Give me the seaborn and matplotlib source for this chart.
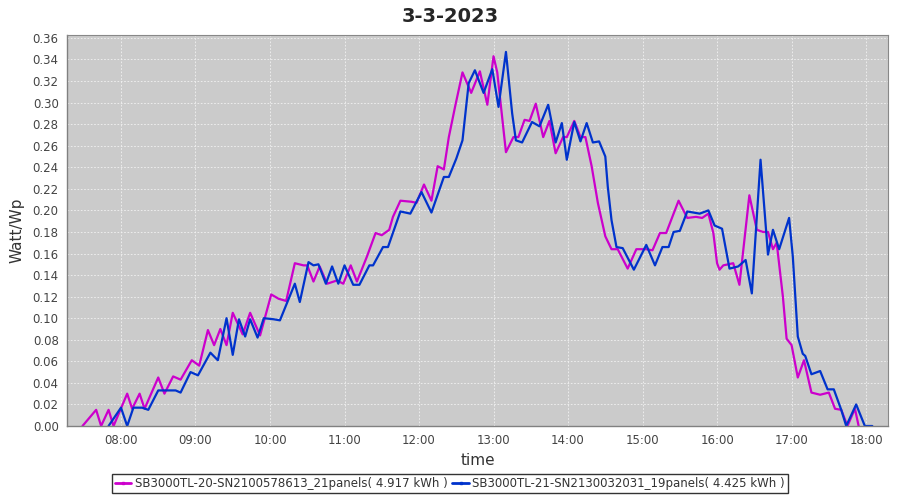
import numpy as np
import pandas as pd
import matplotlib
matplotlib.use("Agg")
import matplotlib.pyplot as plt
import matplotlib.dates as mdates
from matplotlib.ticker import FormatStrFormatter
from matplotlib.lines import Line2D
import seaborn as sns

# --- data (time of day, Watt/Wp) ---
day = "2023-03-03"
title = "3-3-2023"

sb20_label = "SB3000TL-20-SN2100578613_21panels( 4.917 kWh )"
sb20_times = ["07:29", "07:40", "07:44", "07:50", "07:54", "08:05", "08:09", "08:15", "08:19",
              "08:30", "08:35", "08:42", "08:48", "08:57", "09:03", "09:10", "09:15", "09:20",
              "09:25", "09:30", "09:38", "09:44", "09:52", "10:01", "10:07", "10:13", "10:20",
              "10:27", "10:30", "10:35", "10:40", "10:46", "10:54", "10:59", "11:05", "11:10",
              "11:18", "11:25", "11:30", "11:36", "11:39", "11:45", "11:54", "11:58", "12:04",
              "12:10", "12:15", "12:20", "12:24", "12:29", "12:35", "12:42", "12:49", "12:55",
              "13:00", "13:03", "13:10", "13:16", "13:20", "13:25", "13:29", "13:34", "13:40",
              "13:45", "13:50", "13:56", "13:59", "14:05", "14:10", "14:14", "14:19", "14:24",
              "14:30", "14:35", "14:40", "14:48", "14:55", "15:03", "15:08", "15:14", "15:19",
              "15:29", "15:36", "15:43", "15:48", "15:53", "15:57", "16:00", "16:02", "16:05",
              "16:13", "16:18", "16:26", "16:32", "16:37", "16:41", "16:45", "16:48", "16:53",
              "16:56", "17:00", "17:05", "17:10", "17:16", "17:23", "17:30", "17:35", "17:40",
              "17:45", "17:51", "17:54"]
sb20_values = [0.000, 0.015, 0.000, 0.015, 0.000, 0.030, 0.016, 0.030, 0.016,
               0.045, 0.030, 0.046, 0.043, 0.061, 0.056, 0.089, 0.075, 0.090,
               0.075, 0.105, 0.085, 0.105, 0.084, 0.122, 0.118, 0.116, 0.151,
               0.149, 0.149, 0.134, 0.148, 0.132, 0.135, 0.132, 0.149, 0.134,
               0.157, 0.179, 0.177, 0.182, 0.194, 0.209, 0.208, 0.207, 0.224,
               0.209, 0.241, 0.238, 0.268, 0.296, 0.328, 0.309, 0.329, 0.298,
               0.343, 0.328, 0.254, 0.268, 0.268, 0.284, 0.283, 0.299, 0.268,
               0.283, 0.253, 0.268, 0.268, 0.283, 0.268, 0.268, 0.241, 0.207,
               0.176, 0.164, 0.164, 0.146, 0.164, 0.164, 0.163, 0.179, 0.179,
               0.209, 0.193, 0.194, 0.193, 0.197, 0.179, 0.151, 0.145, 0.149,
               0.151, 0.131, 0.214, 0.182, 0.180, 0.180, 0.164, 0.170, 0.120,
               0.081, 0.075, 0.045, 0.061, 0.031, 0.029, 0.031, 0.016, 0.015,
               0.000, 0.016, 0.000]

sb21_label = "SB3000TL-21-SN2130032031_19panels( 4.425 kWh )"
sb21_times = ["07:50", "08:00", "08:05", "08:10", "08:17", "08:22", "08:30", "08:44", "08:48",
              "08:56", "09:02", "09:12", "09:18", "09:25", "09:30", "09:35", "09:40", "09:44",
              "09:50", "09:55", "10:03", "10:08", "10:20", "10:24", "10:31", "10:35", "10:39",
              "10:45", "10:50", "10:55", "11:00", "11:07", "11:12", "11:20", "11:23", "11:31",
              "11:35", "11:45", "11:53", "12:02", "12:10", "12:20", "12:24", "12:30", "12:35",
              "12:40", "12:45", "12:52", "12:59", "13:04", "13:10", "13:15", "13:18", "13:23",
              "13:31", "13:37", "13:44", "13:50", "13:55", "13:59", "14:05", "14:10", "14:15",
              "14:20", "14:25", "14:30", "14:32", "14:35", "14:39", "14:44", "14:53", "15:03",
              "15:10", "15:16", "15:21", "15:25", "15:30", "15:36", "15:46", "15:53", "15:58",
              "16:04", "16:10", "16:17", "16:23", "16:28", "16:35", "16:41", "16:45", "16:50",
              "16:58", "17:01", "17:05", "17:09", "17:11", "17:16", "17:23", "17:29", "17:34",
              "17:40", "17:44", "17:52", "17:59", "18:05"]
sb21_values = [0.000, 0.017, 0.000, 0.017, 0.017, 0.015, 0.033, 0.033, 0.031,
               0.050, 0.047, 0.068, 0.061, 0.100, 0.066, 0.099, 0.083, 0.099,
               0.082, 0.100, 0.099, 0.098, 0.132, 0.115, 0.152, 0.149, 0.150,
               0.132, 0.148, 0.132, 0.149, 0.131, 0.131, 0.149, 0.149, 0.166,
               0.166, 0.199, 0.197, 0.217, 0.198, 0.231, 0.231, 0.248, 0.265,
               0.318, 0.330, 0.309, 0.331, 0.296, 0.347, 0.290, 0.265, 0.263,
               0.282, 0.278, 0.298, 0.263, 0.281, 0.247, 0.282, 0.264, 0.281,
               0.263, 0.264, 0.250, 0.222, 0.191, 0.166, 0.165, 0.145, 0.168,
               0.149, 0.166, 0.166, 0.180, 0.181, 0.199, 0.197, 0.200, 0.186,
               0.183, 0.146, 0.148, 0.154, 0.123, 0.247, 0.159, 0.182, 0.164,
               0.193, 0.157, 0.083, 0.067, 0.065, 0.048, 0.051, 0.034, 0.034,
               0.015, 0.000, 0.020, 0.000, 0.000]

y_ticks = np.arange(0, 0.361, 0.02)


def to_frame(times, values, name):
    return pd.DataFrame({
        "time": pd.to_datetime([f"{day} {t}" for t in times]),
        "value": values,
        "series": name,
    })


df = pd.concat([to_frame(sb20_times, sb20_values, sb20_label),
                to_frame(sb21_times, sb21_values, sb21_label)], ignore_index=True)

colors = {sb20_label: "#cc00cc", sb21_label: "#0033cc"}

sns.set_style("white")
plt.rcParams["font.family"] = ["DejaVu Sans"]

fig = plt.figure(figsize=(9, 5), dpi=100)
ax = fig.add_axes([0.0744, 0.148, 0.9123, 0.782])
ax.set_facecolor("#cbcbcb")

sns.lineplot(data=df, x="time", y="value", hue="series", palette=colors,
             linewidth=1.6, ax=ax, legend=False, estimator=None, sort=True)

ax.set_xlim(pd.Timestamp(f"{day} 07:16:30"), pd.Timestamp(f"{day} 18:17:40"))
ax.set_ylim(0, 0.3627)
ax.set_yticks(y_ticks)
ax.yaxis.set_major_formatter(FormatStrFormatter("%.2f"))
ax.xaxis.set_major_locator(mdates.HourLocator())
ax.xaxis.set_major_formatter(mdates.DateFormatter("%H:%M"))

# light dashed grid like the original
ax.grid(True, color="#f2f2f2", linestyle=(0, (2, 2)), linewidth=0.6)
ax.set_axisbelow(True)
for side in ["top", "right"]:
    ax.spines[side].set_color("#888888")
    ax.spines[side].set_linewidth(0.8)
for side in ["left", "bottom"]:
    ax.spines[side].set_color("#808080")
    ax.spines[side].set_linewidth(1.0)
ax.tick_params(axis="both", direction="out", length=3, color="#808080",
               labelsize=8.5, labelcolor="#444444", pad=3)

ax.set_xlabel("time", fontsize=11, color="#333333", labelpad=4)
ax.set_ylabel("Watt/Wp", fontsize=11, color="#333333", labelpad=6)
fig.suptitle(title, x=0.5, y=0.985, fontsize=14, fontweight="bold")

handles = [Line2D([0], [0], color=colors[sb20_label], lw=2, marker="s", markersize=2),
           Line2D([0], [0], color=colors[sb21_label], lw=2, marker="s", markersize=2)]
leg = fig.legend(handles, [sb20_label, sb21_label], loc="lower center",
                 bbox_to_anchor=(0.5, 0.003), ncol=2, fontsize=8.5, frameon=True,
                 fancybox=False, handlelength=1.4, handletextpad=0.3, columnspacing=0.4,
                 borderpad=0.25, labelcolor="#333333")
leg.get_frame().set_edgecolor("black")
leg.get_frame().set_linewidth(1.0)

fig.savefig("out.png", dpi=100)
